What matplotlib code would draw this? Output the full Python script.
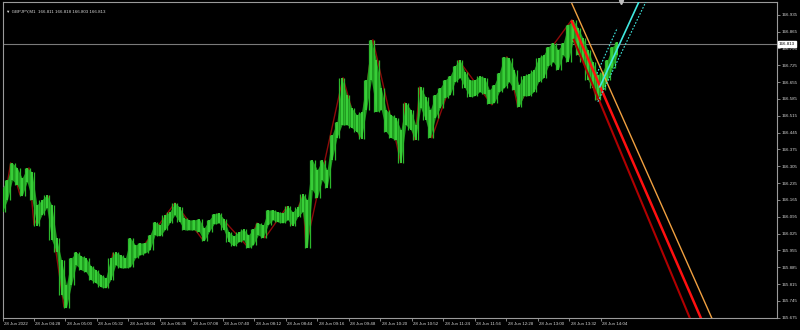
import matplotlib
matplotlib.use("Agg")
import matplotlib.pyplot as plt
import matplotlib.transforms as mtransforms
import numpy as np

# ---------------- data ----------------
symbol_text = "GBPJPY,M1  166.811 166.818 166.803 166.813"
current_price = 166.813

# 5-minute buckets (minutes since 03:56) high / low
bucket_step = 5
highs = [166.215, 166.248, 166.319, 166.298, 166.256, 166.298, 166.281, 166.144, 166.165, 166.186,
         166.144, 166.007, 165.915, 165.811, 165.923, 165.948, 165.932, 165.923, 165.890, 165.874,
         165.853, 165.840, 165.923, 165.948, 165.936, 165.923, 166.007, 165.978, 165.986, 165.986,
         166.019, 166.073, 166.061, 166.102, 166.115, 166.152, 166.136, 166.090, 166.082, 166.082,
         166.086, 166.048, 166.082, 166.107, 166.111, 166.086, 166.032, 166.015, 166.032, 166.044,
         166.019, 166.044, 166.069, 166.061, 166.123, 166.123, 166.115, 166.111, 166.140, 166.115,
         166.136, 166.190, 166.165, 166.331, 166.290, 166.331, 166.290, 166.435, 166.490, 166.673,
         166.602, 166.548, 166.519, 166.531, 166.664, 166.831, 166.748, 166.631, 166.540, 166.519,
         166.506, 166.456, 166.569, 166.540, 166.477, 166.635, 166.594, 166.540, 166.602, 166.631,
         166.664, 166.681, 166.723, 166.748, 166.698, 166.664, 166.664, 166.681, 166.673, 166.623,
         166.644, 166.694, 166.760, 166.756, 166.706, 166.644, 166.681, 166.689, 166.706, 166.756,
         166.768, 166.802, 166.818, 166.789, 166.818, 166.893, 166.914, 166.881, 166.839, 166.789,
         166.739, 166.685, 166.698, 166.748, 166.802, 166.823]
lows = [166.115, 166.165, 166.248, 166.227, 166.181, 166.240, 166.165, 166.057, 166.102, 166.132,
        165.998, 165.948, 165.770, 165.715, 165.811, 165.894, 165.874, 165.865, 165.832, 165.819,
        165.803, 165.799, 165.832, 165.894, 165.882, 165.882, 165.886, 165.923, 165.936, 165.944,
        165.957, 166.019, 166.015, 166.040, 166.069, 166.102, 166.073, 166.040, 166.040, 166.040,
        166.032, 165.994, 166.032, 166.065, 166.069, 166.040, 165.990, 165.973, 165.990, 165.998,
        165.965, 165.978, 166.019, 166.007, 166.061, 166.082, 166.073, 166.069, 166.082, 166.057,
        166.094, 166.115, 165.965, 166.207, 166.173, 166.248, 166.215, 166.331, 166.423, 166.477,
        166.477, 166.465, 166.448, 166.419, 166.540, 166.664, 166.531, 166.540, 166.448, 166.423,
        166.415, 166.319, 166.477, 166.456, 166.415, 166.548, 166.498, 166.423, 166.506, 166.548,
        166.590, 166.602, 166.656, 166.673, 166.631, 166.594, 166.598, 166.614, 166.606, 166.565,
        166.569, 166.614, 166.631, 166.656, 166.623, 166.552, 166.598, 166.598, 166.614, 166.656,
        166.673, 166.723, 166.739, 166.706, 166.768, 166.739, 166.823, 166.768, 166.739, 166.664,
        166.631, 166.581, 166.623, 166.664, 166.714, 166.768]

# ZigZag indicator vertices (minute, price)
zz_t = [0.5, 8.3, 17.8, 26.9, 32.0, 46.2, 62.5, 74.7, 106.2, 112.3, 127.5, 175.3, 203.8, 219.0,
        249.5, 258.7, 266.8, 289.1, 294.2, 305.4, 308.4, 346.1, 363.3, 376.5, 405.0, 409.0, 419.2,
        424.3, 436.5, 463.9, 497.5, 512.7, 523.9, 561.5, 578.8, 604.2, 624.5]
zz_p = [166.123, 166.319, 166.186, 166.298, 166.061, 166.181, 165.720, 165.944, 165.803, 165.944,
        165.886, 166.152, 165.998, 166.107, 165.969, 166.069, 166.007, 166.136, 166.061, 166.186,
        165.969, 166.673, 166.423, 166.831, 166.319, 166.569, 166.415, 166.635, 166.423, 166.744,
        166.560, 166.760, 166.552, 166.818, 166.914, 166.581, 166.814]

# Channel lines (t0, p0, t1, p1)
orange_line = (578.8, 166.981, 721.0, 165.674)
red_line_a = (578.8, 166.906, 709.9, 165.674)
red_line_b = (580.8, 166.831, 698.7, 165.674)
cyan_solid = (607.2, 166.635, 647.9, 166.997)
cyan_dot_r = (605.2, 166.573, 655.0, 166.997)
cyan_dot_l = (604.2, 166.690, 625.0, 166.880)

# axis
y_ticks = [166.935, 166.865, 166.795, 166.725, 166.655, 166.585, 166.515, 166.445, 166.375,
           166.305, 166.235, 166.165, 166.095, 166.025, 165.955, 165.885, 165.815, 165.745, 165.675]
x_tick_t = [0, 32, 64, 96, 128, 160, 192, 224, 256, 288, 320, 352, 384, 416, 448, 480, 512, 544, 576, 608]
x_tick_labels = ["28 Jun 2022", "28 Jun 04:28", "28 Jun 05:00", "28 Jun 05:32", "28 Jun 06:04",
                 "28 Jun 06:36", "28 Jun 07:08", "28 Jun 07:40", "28 Jun 08:12", "28 Jun 08:44",
                 "28 Jun 09:16", "28 Jun 09:48", "28 Jun 10:20", "28 Jun 10:52", "28 Jun 11:24",
                 "28 Jun 11:56", "28 Jun 12:28", "28 Jun 13:00", "28 Jun 13:32", "28 Jun 14:04"]

# ---------------- plot ----------------
plt.rcParams['font.family'] = ['Liberation Sans', 'DejaVu Sans']
FS = 3.2
TXT = '#d8d8d8'
GRID = '#9a9a9a'

fig = plt.figure(figsize=(8, 3.3), dpi=100, facecolor='black')
ax = fig.add_axes([2.5 / 800, 12 / 330, 774.2 / 800, 316.3 / 330])
ax.set_facecolor('black')
ax.set_xlim(0, 787)
ax.set_ylim(165.674, 166.989)

t_b = np.arange(len(highs)) * bucket_step
hi = np.array(highs)
lo = np.array(lows)

ax.plot(zz_t, zz_p, color='#8e0a0a', lw=1.0, zorder=2)
ax.fill_between(t_b, lo, hi, color='#1f9a1f', linewidth=0, zorder=3)
ax.vlines(t_b, lo, hi, color='#3bd43b', lw=1.3, zorder=3.5)
mid_t = (t_b[:-1] + t_b[1:]) / 2
ax.vlines(mid_t, np.minimum(lo[:-1], lo[1:]), np.maximum(hi[:-1], hi[1:]),
          color='#2cb82c', lw=0.9, zorder=3.4)

ax.axhline(current_price, color='#7a7a7a', lw=0.8, zorder=1)

def seg(l, **kw):
    ax.plot([l[0], l[2]], [l[1], l[3]], **kw)

seg(orange_line, color='#f0a040', lw=1.0, zorder=4)
seg(red_line_b, color='#b00000', lw=1.5, zorder=4)
seg(red_line_a, color='#ff1010', lw=1.8, zorder=4)
seg(cyan_solid, color='#40e8e0', lw=1.2, zorder=5)
seg(cyan_dot_r, color='#40e8e0', lw=0.8, ls=(0, (1.5, 1.5)), zorder=5)
seg(cyan_dot_l, color='#40e8e0', lw=0.8, ls=(0, (1.5, 1.5)), zorder=5)

for s in ax.spines.values():
    s.set_color(GRID)
    s.set_linewidth(0.8)

ax.yaxis.tick_right()
ax.set_yticks(y_ticks)
ax.set_yticklabels([f"{v:.3f}" for v in y_ticks])
ax.tick_params(axis='y', colors=GRID, labelcolor=TXT, labelsize=FS, length=2, width=0.6,
               direction='out', pad=1.5)
ax.set_xticks(x_tick_t)
ax.set_xticklabels([])
ax.tick_params(axis='x', colors=GRID, length=2, width=0.6, direction='out')
trans = mtransforms.blended_transform_factory(ax.transData, ax.transAxes)
for t, lab in zip(x_tick_t, x_tick_labels):
    ax.text(t + 1.5, -0.012, lab, transform=trans, ha='left', va='top', fontsize=FS, color=TXT,
            clip_on=False)

# current price label box
ax.text(1.003, current_price, f"{current_price:.3f}",
        transform=mtransforms.blended_transform_factory(ax.transAxes, ax.transData),
        ha='left', va='center', fontsize=FS, color='black', zorder=10, clip_on=False,
        bbox=dict(boxstyle='square,pad=0.15', fc='white', ec='white'))

# header text
ax.text(0.004, 0.975, "\u25bc " + symbol_text, transform=ax.transAxes, ha='left', va='top',
        fontsize=FS, color=TXT)

# chart shift marker
ax.plot([628.6], [1.0], marker='v', markersize=3, color='#c0c0c0', transform=trans,
        clip_on=False, zorder=10)

fig.savefig('out.png', dpi=100, facecolor='black')
